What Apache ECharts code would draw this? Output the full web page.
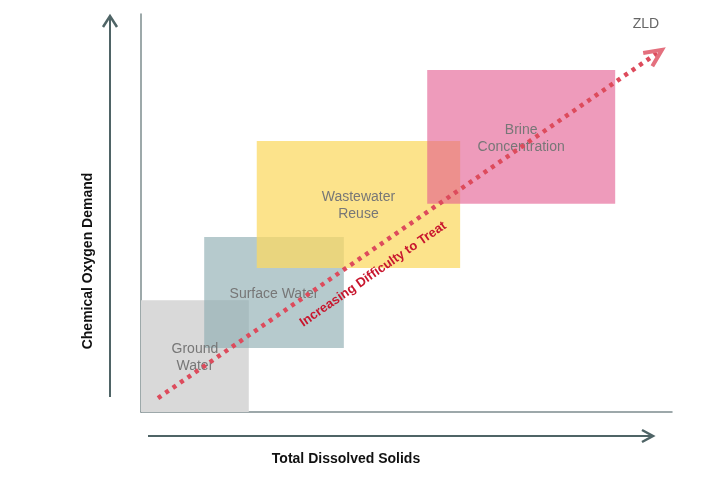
<!DOCTYPE html>
<html lang="en">
<head>
	<meta charset="UTF-8">
	<title>Treatment difficulty chart</title>
	<style>
		html, body { margin: 0; padding: 0; background: #fff; }
		#chart { width: 720px; height: 480px; }
	</style>
</head>
<body>
	<div id="chart"></div>

	<script src="https://cdn.jsdelivr.net/npm/echarts@6/dist/echarts.min.js"></script>
	<script>
		// regions, in axis units (0-100 on both axes)
		var boxNames = ['Ground\nWater', 'Surface Water', 'Wastewater\nReuse', 'Brine\nConcentration'];
		var boxX0 = [0, 11.9, 21.8, 53.9];
		var boxX1 = [20.3, 38.2, 60.1, 89.3];
		var boxY0 = [0, 16.1, 36.2, 52.3];
		var boxY1 = [28.1, 44.0, 68.1, 85.9];

		// the dotted trend arrow
		var trendFrom = [3.2, 3.5];
		var trendTo = [98.1, 91.0];
		var trendText = 'Increasing Difficulty to Treat';
		var trendTextAt = [43.7, 34.6];
		var endText = 'ZLD';
		var endTextAt = [95.1, 97.5];

		var xTitle = 'Total Dissolved Solids';
		var yTitle = 'Chemical Oxygen Demand';

		var boxColors = ['rgba(217,217,217,1)', 'rgba(143,173,178,0.65)', 'rgba(251,218,100,0.75)', 'rgba(227,88,142,0.6)'];
		var font = '"Liberation Sans", Arial, sans-serif';
		var axisGrey = '#7d8c8e';
		var arrowGrey = '#4f6466';

		var boxData = boxNames.map(function (n, i) {
			return { name: n, value: [boxX0[i], boxY0[i], boxX1[i], boxY1[i]] };
		});

		function renderBox(params, api) {
			var a = api.coord([api.value(0), api.value(1)]);
			var b = api.coord([api.value(2), api.value(3)]);
			var i = params.dataIndex;
			return {
				type: 'group',
				children: [{
					type: 'rect',
					shape: { x: a[0], y: b[1], width: b[0] - a[0], height: a[1] - b[1] },
					style: { fill: boxColors[i] }
				}, {
					type: 'text',
					z2: 50,
					style: {
						text: boxNames[i],
						x: (a[0] + b[0]) / 2,
						y: (a[1] + b[1]) / 2 + 1.5,
						align: 'center',
						verticalAlign: 'middle',
						fill: '#777',
						font: '14px ' + font,
						lineHeight: 17
					}
				}]
			};
		}

		function renderTrend(params, api) {
			var p0 = api.coord([api.value(0), api.value(1)]);
			var p1 = api.coord([api.value(2), api.value(3)]);
			var dx = p1[0] - p0[0], dy = p1[1] - p0[1];
			var len = Math.sqrt(dx * dx + dy * dy);
			var ux = dx / len, uy = dy / len;
			var ang = Math.atan2(dy, dx);
			var arm = 19, spread = 25 * Math.PI / 180;
			var a1 = [p1[0] - arm * Math.cos(ang - spread), p1[1] - arm * Math.sin(ang - spread)];
			var a2 = [p1[0] - arm * Math.cos(ang + spread), p1[1] - arm * Math.sin(ang + spread)];
			var tp = api.coord(trendTextAt);
			var zp = api.coord(endTextAt);
			return {
				type: 'group',
				children: [{
					type: 'line',
					shape: { x1: p0[0], y1: p0[1], x2: p1[0] - 6 * ux, y2: p1[1] - 6 * uy },
					style: { stroke: '#dd4b5c', lineWidth: 4.5, lineDash: [4, 5], lineCap: 'butt' }
				}, {
					type: 'polyline',
					shape: { points: [a1, p1, a2] },
					style: { stroke: '#e4707e', lineWidth: 4, fill: null, lineJoin: 'miter' }
				}, {
					type: 'text',
					x: tp[0],
					y: tp[1],
					rotation: -ang,
					style: {
						text: trendText,
						align: 'center',
						verticalAlign: 'middle',
						fill: '#c8162e',
						font: 'bold 13px ' + font
					}
				}, {
					type: 'text',
					style: {
						text: endText,
						x: zp[0],
						y: zp[1],
						align: 'center',
						verticalAlign: 'middle',
						fill: '#666',
						font: '14px ' + font
					}
				}]
			};
		}

		var option = {
			animation: false,
			grid: { left: 141, top: 14, right: 48, bottom: 68 },
			xAxis: {
				type: 'value', min: 0, max: 100,
				axisLine: { show: true, lineStyle: { color: axisGrey, width: 1.5 } },
				axisTick: { show: false }, axisLabel: { show: false }, splitLine: { show: false }
			},
			yAxis: {
				type: 'value', min: 0, max: 100,
				axisLine: { show: true, lineStyle: { color: axisGrey, width: 1.5 } },
				axisTick: { show: false }, axisLabel: { show: false }, splitLine: { show: false }
			},
			series: [{
				type: 'custom',
				renderItem: renderBox,
				data: boxData,
				z: 2
			}, {
				type: 'custom',
				renderItem: renderTrend,
				data: [[trendFrom[0], trendFrom[1], trendTo[0], trendTo[1]]],
				z: 5
			}],
			graphic: [
				// outer direction arrows
				{ type: 'line', shape: { x1: 110, y1: 397, x2: 110, y2: 16 }, style: { stroke: arrowGrey, lineWidth: 2 } },
				{ type: 'polyline', shape: { points: [[103, 27], [110, 16], [117, 27]] }, style: { stroke: arrowGrey, lineWidth: 2.5, fill: null } },
				{ type: 'line', shape: { x1: 148, y1: 436, x2: 652, y2: 436 }, style: { stroke: arrowGrey, lineWidth: 2 } },
				{ type: 'polyline', shape: { points: [[642, 430], [653, 436], [642, 442]] }, style: { stroke: arrowGrey, lineWidth: 2.5, fill: null } },
				{
					type: 'text', x: 346, y: 459,
					style: { text: xTitle, align: 'center', verticalAlign: 'middle', fill: '#111', font: 'bold 14px ' + font }
				},
				{
					type: 'text', x: 88, y: 261, rotation: Math.PI / 2,
					style: { text: yTitle, align: 'center', verticalAlign: 'middle', fill: '#111', font: 'bold 14px ' + font }
				}
			]
		};

		var myChart = echarts.init(document.getElementById('chart'));
		myChart.setOption(option);
	</script>
</body>
</html>
